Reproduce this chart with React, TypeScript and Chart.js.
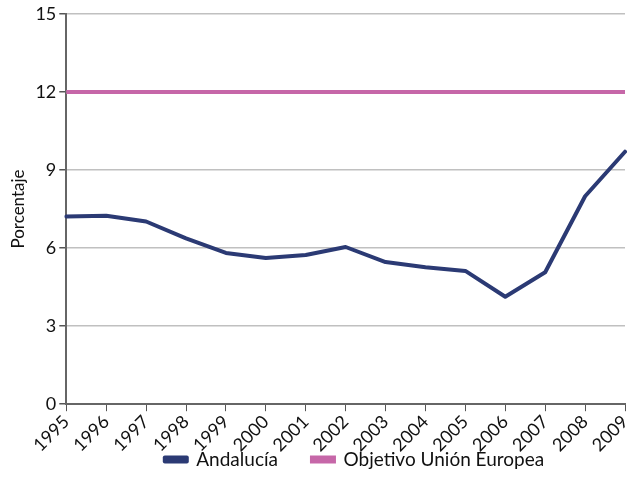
import React, { useEffect, useRef } from "react";
import { Chart, registerables } from "chart.js";

Chart.register(...registerables);

const years = ["1995","1996","1997","1998","1999","2000","2001","2002","2003","2004","2005","2006","2007","2008","2009"];
const andalucia = [7.21, 7.24, 7.02, 6.37, 5.81, 5.62, 5.73, 6.04, 5.46, 5.26, 5.12, 4.13, 5.07, 7.99, 9.7];
const objetivoUE = [12, 12, 12, 12, 12, 12, 12, 12, 12, 12, 12, 12, 12, 12, 12];
const yTicks = [0, 3, 6, 9, 12, 15];

const FONT = "Lato, 'Open Sans', sans-serif";
const LEGEND_SHIFT_Y = -40;
const LEGEND_SHIFT_X = 40;

const legendShift = {
  id: "legendShift",
  afterLayout(chart: any) {
    const lg = chart.legend;
    if (lg) {
      lg.top += LEGEND_SHIFT_Y;
      lg.bottom += LEGEND_SHIFT_Y;
      lg.left += LEGEND_SHIFT_X;
      lg.right += LEGEND_SHIFT_X;
    }
  },
};

export default function App() {
  const ref = useRef<HTMLCanvasElement>(null);
  useEffect(() => {
    document.body.style.margin = "0";
    const chart = new Chart(ref.current!, {
      type: "line",
      data: {
        labels: years,
        datasets: [
          {
            label: "Andalucía",
            data: andalucia,
            borderColor: "#2b3a74",
            backgroundColor: "#2b3a74",
            borderWidth: 4,
            pointRadius: 0,
            tension: 0,
            borderJoinStyle: "round",
            borderCapStyle: "round",
          },
          {
            label: "Objetivo Unión Europea",
            data: objetivoUE,
            borderColor: "#c667a8",
            backgroundColor: "#c667a8",
            borderWidth: 4,
            pointRadius: 0,
          },
        ],
      },
      plugins: [legendShift],
      options: {
        animation: false,
        responsive: false,
        layout: { padding: { top: 12, right: 5, left: 4, bottom: -24 } },
        plugins: {
          legend: {
            position: "bottom",
            labels: {
              font: { family: FONT, size: 19 },
              color: "#111",
              boxWidth: 22,
              boxHeight: 4,
              padding: 34,
            },
          },
          tooltip: { enabled: false },
        },
        scales: {
          x: {
            type: "category",
            offset: false,
            afterFit: (axis: any) => {
              axis.paddingRight = 0;
            },
            grid: {
              drawOnChartArea: false,
              drawTicks: true,
              tickLength: 7,
              color: "#555",
            },
            border: { color: "#666", width: 2 },
            ticks: {
              maxRotation: 45,
              minRotation: 45,
              autoSkip: false,
              font: { family: FONT, size: 18 },
              color: "#111",
              padding: 0,
            },
          },
          y: {
            min: 0,
            max: 15,
            afterBuildTicks: (axis: any) => {
              axis.ticks = yTicks.map((v) => ({ value: v }));
            },
            grid: {
              color: "#c0c0c0",
              lineWidth: 1.5,
              tickColor: "#555",
              tickLength: 7,
            },
            border: { color: "#666", width: 2 },
            ticks: {
              font: { family: FONT, size: 18 },
              color: "#111",
              padding: 3,
            },
            title: {
              display: true,
              text: "Porcentaje",
              font: { family: FONT, size: 17 },
              color: "#111",
              padding: 4,
            },
          },
        },
      },
    });
    return () => chart.destroy();
  }, []);
  return (
    <div style={{ width: 630, height: 495, background: "#fff" }}>
      <canvas ref={ref} width={630} height={495} />
    </div>
  );
}
